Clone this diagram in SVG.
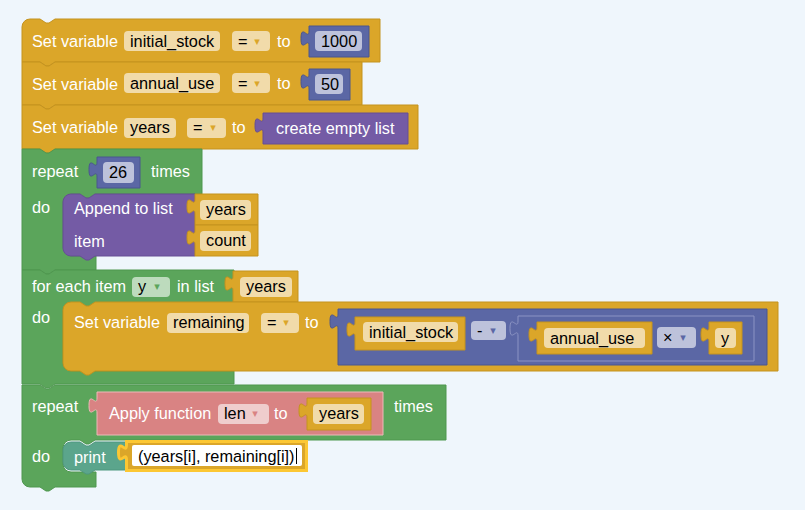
<svg xmlns="http://www.w3.org/2000/svg" width="805" height="510" viewBox="0 0 805 510">
<style>
text{font-family:"Liberation Sans",Arial,sans-serif;font-size:16.3px}
.l{fill:#fff}
.t{fill:#000}
.gold{fill:#dba629;stroke:#c4931f;stroke-width:1}
.green{fill:#5ba55b;stroke:#4f974f;stroke-width:1}
.blue{fill:#5b67a5;stroke:#4b568f;stroke-width:1}
.blue2{fill:#5b67a5;stroke:#8c94c4;stroke-width:1}
.purple{fill:#745ba5;stroke:#664f94;stroke-width:1}
.pink{fill:#d98383;stroke:#edb9b9;stroke-width:1}
.teal{fill:#5ba58c;stroke:#4f977e;stroke-width:1}
.sel{fill:#dba629;stroke:#fcc733;stroke-width:3}
.fg{fill:#f1dbaa}
.fb{fill:#bdc2db}
.fgr{fill:#bddbbd}
.fp{fill:#efcdcd}
.fw{fill:#fff}
.a{font-family:"DejaVu Sans",sans-serif;font-size:11px;text-anchor:middle}
</style>
<rect width="805" height="510" fill="#eff6fc"/>

<g id="set-initial-stock">
<path class="gold" d="M22,27 a8,8 0 0 1 8,-8 H40 l6,4 3,0 6,-4 H380 V62 H55 l-6,4 -3,0 -6,-4 H22 z"/>
<text class="l" x="32" y="47">Set variable</text>
<rect class="fg" x="124" y="31" width="96" height="20" rx="4"/>
<text class="t" x="130" y="47">initial_stock</text>
<rect class="fg" x="232" y="31" width="38" height="20" rx="4"/>
<text class="t" x="238" y="47">=</text>
<text class="a" x="257" y="45" fill="#dba629">▾</text>
<text class="l" x="277" y="47">to</text>
<g id="num-1000">
<path class="blue" d="M309,26 H369 V57 H309 V46 c0,-10 -8,8 -8,-7.5 c0,-15.5 8,2.5 8,-7.5 z"/>
<rect class="fb" x="315" y="31" width="47" height="20" rx="4"/>
<text class="t" x="321" y="47">1000</text>
</g>
</g>

<g id="set-annual-use">
<path class="gold" d="M22,62 H40 l6,4 3,0 6,-4 H362 V105 H55 l-6,4 -3,0 -6,-4 H22 z"/>
<text class="l" x="32" y="90">Set variable</text>
<rect class="fg" x="124" y="73" width="96" height="20" rx="4"/>
<text class="t" x="130" y="89">annual_use</text>
<rect class="fg" x="232" y="73" width="38" height="20" rx="4"/>
<text class="t" x="238" y="89">=</text>
<text class="a" x="257" y="87" fill="#dba629">▾</text>
<text class="l" x="277" y="89">to</text>
<g id="num-50">
<path class="blue" d="M309,69 H350 V100 H309 V89 c0,-10 -8,8 -8,-7.5 c0,-15.5 8,2.5 8,-7.5 z"/>
<rect class="fb" x="315" y="74" width="28" height="20" rx="4"/>
<text class="t" x="321" y="90">50</text>
</g>
</g>

<g id="set-years">
<path class="gold" d="M22,105 H40 l6,4 3,0 6,-4 H418 V149 H55 l-6,4 -3,0 -6,-4 H22 z"/>
<text class="l" x="32" y="133">Set variable</text>
<rect class="fg" x="124" y="118" width="52" height="20" rx="4"/>
<text class="t" x="130" y="133">years</text>
<rect class="fg" x="187" y="118" width="39" height="20" rx="4"/>
<text class="t" x="193" y="133">=</text>
<text class="a" x="213" y="131" fill="#dba629">▾</text>
<text class="l" x="232" y="133">to</text>
<g id="create-empty-list">
<path class="purple" d="M263,113 H408 V144 H263 V133 c0,-10 -8,8 -8,-7.5 c0,-15.5 8,2.5 8,-7.5 z"/>
<text class="l" x="276" y="134">create empty list</text>
</g>
</g>

<g id="repeat-26">
<path class="green" d="M22,149 H40 l6,4 3,0 6,-4 H202 V194 H95 l-6,4 -3,0 -6,-4 H71 a8,8 0 0 0 -8,8 V248 a8,8 0 0 0 8,8 H96 V270 H55 l-6,4 -3,0 -6,-4 H22 z"/>
<text class="l" x="32" y="177">repeat</text>
<g id="num-26">
<path class="blue" d="M97,157 H140 V188 H97 V177 c0,-10 -8,8 -8,-7.5 c0,-15.5 8,2.5 8,-7.5 z"/>
<rect class="fb" x="103" y="162" width="31" height="21" rx="4"/>
<text class="t" x="109" y="178">26</text>
</g>
<text class="l" x="151" y="177">times</text>
<text class="l" x="32" y="213">do</text>
</g>

<g id="append-to-list">
<path class="purple" d="M63,202 a8,8 0 0 1 8,-8 H80 l6,4 3,0 6,-4 H195 V256 H95 l-6,4 -3,0 -6,-4 H71 a8,8 0 0 1 -8,-8 z"/>
<text class="l" x="74" y="214">Append to list</text>
<text class="l" x="74" y="247">item</text>
<g id="var-years-1">
<path class="gold" d="M195,194 H258 V225 H195 V214 c0,-10 -8,8 -8,-7.5 c0,-15.5 8,2.5 8,-7.5 z"/>
<rect class="fg" x="200" y="200" width="51" height="20" rx="4"/>
<text class="t" x="206" y="215">years</text>
</g>
<g id="var-count">
<path class="gold" d="M195,225 H258 V256 H195 V245 c0,-10 -8,8 -8,-7.5 c0,-15.5 8,2.5 8,-7.5 z"/>
<rect class="fg" x="200" y="231" width="51" height="20" rx="4"/>
<text class="t" x="206" y="246">count</text>
</g>
</g>

<g id="for-each">
<path class="green" d="M22,270 H40 l6,4 3,0 6,-4 H234 V303 H95 l-6,4 -3,0 -6,-4 H71 a8,8 0 0 0 -8,8 V363 a8,8 0 0 0 8,8 H234 V384 H55 l-6,4 -3,0 -6,-4 H22 z"/>
<text class="l" x="32" y="292">for each item</text>
<rect class="fgr" x="132" y="277" width="38" height="20" rx="4"/>
<text class="t" x="138" y="292">y</text>
<text class="a" x="157" y="290" fill="#5ba55b">▾</text>
<text class="l" x="177" y="292">in list</text>
<g id="var-years-2">
<path class="gold" d="M233,271 H298 V302 H233 V291 c0,-10 -8,8 -8,-7.5 c0,-15.5 8,2.5 8,-7.5 z"/>
<rect class="fg" x="240" y="277" width="52" height="20" rx="4"/>
<text class="t" x="246" y="292">years</text>
</g>
<text class="l" x="32" y="323">do</text>
</g>

<g id="set-remaining">
<path class="gold" d="M63,310 a8,8 0 0 1 8,-8 H80 l6,4 3,0 6,-4 H778 V371 H95 l-6,4 -3,0 -6,-4 H71 a8,8 0 0 1 -8,-8 z"/>
<text class="l" x="74" y="328">Set variable</text>
<rect class="fg" x="167" y="313" width="82" height="20" rx="4"/>
<text class="t" x="173" y="328">remaining</text>
<rect class="fg" x="261" y="313" width="38" height="20" rx="4"/>
<text class="t" x="267" y="328">=</text>
<text class="a" x="286" y="326" fill="#dba629">▾</text>
<text class="l" x="305" y="328">to</text>
<g id="minus">
<path class="blue" d="M338,309 H767 V365 H338 V329 c0,-10 -8,8 -8,-7.5 c0,-15.5 8,2.5 8,-7.5 z"/>
<g id="var-initial-stock">
<path class="gold" d="M355,317 H465 V350 H355 V337 c0,-10 -8,8 -8,-7.5 c0,-15.5 8,2.5 8,-7.5 z"/>
<rect class="fg" x="363" y="322" width="95" height="20" rx="4"/>
<text class="t" x="369" y="338">initial_stock</text>
</g>
<rect class="fb" x="471" y="321" width="35" height="19" rx="4"/>
<text class="t" x="477" y="336">-</text>
<text class="a" x="493" y="334" fill="#5b67a5">▾</text>
<g id="times">
<path class="blue2" d="M518,316 H754 V361 H518 V336 c0,-10 -8,8 -8,-7.5 c0,-15.5 8,2.5 8,-7.5 z"/>
<g id="var-annual-use">
<path class="gold" d="M537,322 H652 V354 H537 V342 c0,-10 -8,8 -8,-7.5 c0,-15.5 8,2.5 8,-7.5 z"/>
<rect class="fg" x="544" y="328" width="101" height="20" rx="4"/>
<text class="t" x="550" y="344">annual_use</text>
</g>
<rect class="fb" x="657" y="327" width="39" height="21" rx="4"/>
<text class="t" x="663" y="343">×</text>
<text class="a" x="683" y="341" fill="#5b67a5">▾</text>
<g id="var-y">
<path class="gold" d="M709,322 H742 V354 H709 V342 c0,-10 -8,8 -8,-7.5 c0,-15.5 8,2.5 8,-7.5 z"/>
<rect class="fg" x="715" y="328" width="21" height="20" rx="4"/>
<text class="t" x="721" y="344">y</text>
</g>
</g>
</g>
</g>

<g id="repeat-len">
<path class="green" d="M22,385 H40 l6,4 3,0 6,-4 H446 V440 H95 l-6,4 -3,0 -6,-4 H71 a8,8 0 0 0 -8,8 V464 a8,8 0 0 0 8,8 H96 V487 H55 l-6,4 -3,0 -6,-4 H30 a8,8 0 0 1 -8,-8 z"/>
<text class="l" x="32" y="412">repeat</text>
<g id="apply-function">
<path class="pink" d="M97,392 H383 V435 H97 V413 c0,-10 -8,8 -8,-7.5 c0,-15.5 8,2.5 8,-7.5 z"/>
<text class="l" x="109" y="419">Apply function</text>
<rect class="fp" x="218" y="404" width="51" height="20" rx="4"/>
<text class="t" x="224" y="419">len</text>
<text class="a" x="255" y="417" fill="#d98383">▾</text>
<text class="l" x="274" y="419">to</text>
<g id="var-years-3">
<path class="gold" d="M307,398 H371 V430 H307 V418 c0,-10 -8,8 -8,-7.5 c0,-15.5 8,2.5 8,-7.5 z"/>
<rect class="fg" x="313" y="404" width="51" height="20" rx="4"/>
<text class="t" x="319" y="419">years</text>
</g>
</g>
<text class="l" x="394" y="412">times</text>
<text class="l" x="32" y="462">do</text>
</g>

<g id="print">
<path class="teal" d="M63,450 a8,8 0 0 1 8,-8 H80 l6,4 3,0 6,-4 H128 V470 H95 l-6,4 -3,0 -6,-4 H71 a8,8 0 0 1 -8,-8 z"/>
<text class="l" x="74" y="463">print</text>
<g id="text-value">
<path class="sel" d="M126.5,441.5 H306.5 V470.5 H126.5 V460 c0,-10 -8,8 -8,-7.5 c0,-15.5 8,2.5 8,-7.5 z"/>
<rect class="fw" x="132" y="445" width="170" height="21" rx="2"/>
<text class="t" x="138" y="462">(years[i], remaining[i])</text>
<line x1="296.5" y1="448" x2="296.5" y2="464" stroke="#000" stroke-width="1"/>
</g>
</g>
</svg>
